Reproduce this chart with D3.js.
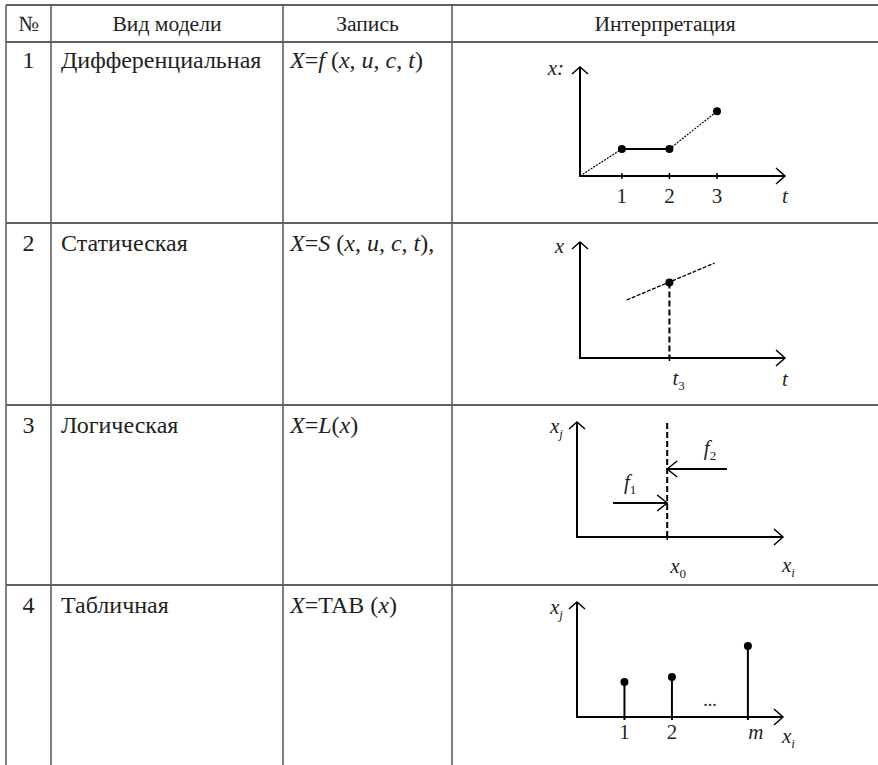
<!DOCTYPE html>
<html>
<head>
<meta charset="utf-8">
<script src="https://cdn.jsdelivr.net/npm/d3@7"></script>
<style>
  html, body { margin: 0; padding: 0; background: #fff; }
  svg { display: block; }
</style>
</head>
<body>
<svg id="chart"></svg>
<script>
const width = 878;
const height = 765;

// --- таблица ---
const headers = ["№", "Вид модели", "Запись", "Интерпретация"];
const rowNumbers = ["1", "2", "3", "4"];
const modelTypes = ["Дифференциальная", "Статическая", "Логическая", "Табличная"];
// записи: [текст, курсив]
const formulaDiff = [["X", 1], ["=", 0], ["f", 1], [" (", 0], ["x", 1], [", ", 0], ["u", 1], [", ", 0], ["c", 1], [", ", 0], ["t", 1], [")", 0]];
const formulaStat = [["X", 1], ["=", 0], ["S", 1], [" (", 0], ["x", 1], [", ", 0], ["u", 1], [", ", 0], ["c", 1], [", ", 0], ["t", 1], ["),", 0]];
const formulaLog = [["X", 1], ["=", 0], ["L", 1], ["(", 0], ["x", 1], [")", 0]];
const formulaTab = [["X", 1], ["=TAB (", 0], ["x", 1], [")", 0]];
const formulas = [formulaDiff, formulaStat, formulaLog, formulaTab];

// --- 1. дифференциальная: ломаная по точкам ---
const diffT = [0.12, 1, 2, 3];
const diffX = [0, 1, 1, 2.4];
const diffTicks = [1, 2, 3];

// --- 2. статическая: прямая и точка t3 ---
const statLineT = [1.1, 2.95];
const statLineX = [2.15, 3.52];
const statPointT = 2;
const statPointX = 2.8;

// --- 3. логическая: порог x0 и воздействия f1, f2 ---
const logX0 = 1.9;
const logTop = 4.22;
const logArrowFrom = [0.76, 3.16];
const logArrowLevel = [1.26, 2.52];
const logArrowNames = ["1", "2"];

// --- 4. табличная: значения в узлах ---
const tabX = [1, 2, 3.6];
const tabY = [1.3, 1.48, 2.63];
const tabLabels = ["1", "2", "m"];

const colEdges = [6, 51, 283, 452, width];
const rowEdges = [5, 42, 223, 405, 585, height];
const rowBase = [68, 251, 433, 613];

const serif = "Liberation Serif";
const ink = "#231f20";
const rule = "#606060";

let svg = d3.select("#chart")
  .attr("width", width)
  .attr("height", height);

// линии таблицы
svg.selectAll(".hrule")
  .data(rowEdges.slice(0, -1))
  .enter()
  .append("line")
  .attr("x1", colEdges[0])
  .attr("x2", width)
  .attr("y1", d => d)
  .attr("y2", d => d)
  .attr("stroke", rule)
  .attr("stroke-width", 2);

svg.selectAll(".vrule")
  .data(colEdges.slice(0, -1))
  .enter()
  .append("line")
  .attr("x1", d => d)
  .attr("x2", d => d)
  .attr("y1", rowEdges[0])
  .attr("y2", height)
  .attr("stroke", rule)
  .attr("stroke-width", 1.6);

// заголовок
svg.selectAll(".head")
  .data(headers)
  .enter()
  .append("text")
  .attr("x", (d, i) => (colEdges[i] + colEdges[i + 1]) / 2)
  .attr("y", 31)
  .attr("text-anchor", "middle")
  .attr("font-size", 21.6)
  .attr("fill", ink)
  .text(d => d);

// строки
rowNumbers.forEach((num, i) => {
  const base = rowBase[i];
  svg.append("text")
    .attr("x", (colEdges[0] + colEdges[1]) / 2)
    .attr("y", base)
    .attr("text-anchor", "middle")
    .attr("font-size", 24)
    .attr("fill", ink)
    .text(num);
  svg.append("text")
    .attr("x", colEdges[1] + 10)
    .attr("y", base)
    .attr("font-size", 24)
    .attr("fill", ink)
    .text(modelTypes[i]);
  let f = svg.append("text")
    .attr("x", colEdges[2] + 7)
    .attr("y", base)
    .attr("font-size", 24)
    .attr("fill", ink);
  formulas[i].forEach(p => {
    f.append("tspan")
      .attr("font-style", p[1] ? "italic" : "normal")
      .text(p[0]);
  });
});

// шкалы для каждой картинки
function makeScales(box) {
  let sx = d3.scaleLinear().domain(box.xDomain).range([box.left, box.right]);
  let sy = d3.scaleLinear().domain(box.yDomain).range([box.bottom, box.top]);
  return [sx, sy];
}

// оси со стрелками
function drawAxes(sx, sy) {
  const [x0, x1] = sx.range();
  const [y0, y1] = sy.range();
  let g = svg.append("g").attr("fill", "none").attr("stroke", "#000");
  g.append("path")
    .attr("d", `M${x0},${y1}V${y0}H${x1}`)
    .attr("stroke-width", 2);
  g.append("path")
    .attr("d", `M${x0 - 8},${y1 + 7}L${x0},${y1}L${x0 + 8},${y1 + 7}`)
    .attr("stroke-width", 1.5);
  g.append("path")
    .attr("d", `M${x1 - 9},${y0 - 8}L${x1},${y0}L${x1 - 9},${y0 + 8}`)
    .attr("stroke-width", 1.5);
}

function drawTicks(sx, sy, values) {
  const y0 = sy.range()[0];
  svg.selectAll(null)
    .data(values)
    .enter()
    .append("line")
    .attr("x1", d => sx(d))
    .attr("x2", d => sx(d))
    .attr("y1", y0 - 3)
    .attr("y2", y0 + 3)
    .attr("stroke", "#000")
    .attr("stroke-width", 1.5);
}

// подпись с индексом (цифры в индексе прямые)
function label(x, y, main, sub, anchor) {
  let t = svg.append("text")
    .attr("x", x)
    .attr("y", y)
    .attr("font-size", 21)
    .attr("font-style", "italic")
    .attr("text-anchor", anchor || "start")
    .attr("fill", ink);
  t.append("tspan").text(main);
  if (sub) {
    t.append("tspan")
      .attr("font-size", 13)
      .attr("font-style", isNaN(+sub) ? "italic" : "normal")
      .attr("dy", 5)
      .text(sub);
  }
  return t;
}

function drawDot(x, y) {
  svg.append("circle")
    .attr("cx", x)
    .attr("cy", y)
    .attr("r", 4)
    .attr("fill", "#000");
}

// 1. дифференциальная
{
  const [sx, sy] = makeScales({ left: 580, right: 785, bottom: 176, top: 67, xDomain: [0.12, 4.43], yDomain: [0, 4.04] });
  drawAxes(sx, sy);
  drawTicks(sx, sy, diffTicks);
  const pts = diffT.map((t, i) => [t, diffX[i]]);
  d3.pairs(pts).forEach(([a, b]) => {
    const flat = a[1] === b[1];
    svg.append("line")
      .attr("x1", sx(a[0])).attr("y1", sy(a[1]))
      .attr("x2", sx(b[0])).attr("y2", sy(b[1]))
      .attr("stroke", "#000")
      .attr("stroke-width", flat ? 2 : 1.2)
      .attr("stroke-dasharray", flat ? null : "2,1.2");
  });
  pts.slice(1).forEach(p => drawDot(sx(p[0]), sy(p[1])));
  svg.selectAll(null)
    .data(diffTicks)
    .enter()
    .append("text")
    .attr("x", d => sx(d))
    .attr("y", sy.range()[0] + 27)
    .attr("text-anchor", "middle")
    .attr("font-size", 21)
    .attr("fill", ink)
    .text(d => d);
  label(sx.range()[0] - 16, sy.range()[1] + 8, "x:", null, "end");
  label(sx.range()[1] - 3, sy.range()[0] + 27, "t");
}

// 2. статическая
{
  const [sx, sy] = makeScales({ left: 580, right: 785, bottom: 358, top: 242, xDomain: [0.12, 4.43], yDomain: [0, 4.3] });
  drawAxes(sx, sy);
  drawTicks(sx, sy, [statPointT]);
  svg.append("line")
    .attr("x1", sx(statLineT[0])).attr("y1", sy(statLineX[0]))
    .attr("x2", sx(statLineT[1])).attr("y2", sy(statLineX[1]))
    .attr("stroke", "#000")
    .attr("stroke-width", 1.3)
    .attr("stroke-dasharray", "4,1.5");
  svg.append("line")
    .attr("x1", sx(statPointT)).attr("y1", sy(statPointX))
    .attr("x2", sx(statPointT)).attr("y2", sy(0))
    .attr("stroke", "#000")
    .attr("stroke-width", 2)
    .attr("stroke-dasharray", "6,3");
  drawDot(sx(statPointT), sy(statPointX));
  label(sx(statPointT) + 3, sy(0) + 27, "t", "3");
  label(sx.range()[0] - 16, sy.range()[1] + 11, "x", null, "end");
  label(sx.range()[1] - 3, sy.range()[0] + 28, "t");
}

// 3. логическая
{
  const [sx, sy] = makeScales({ left: 577, right: 783, bottom: 537, top: 422, xDomain: [0, 4.34], yDomain: [0, 4.26] });
  drawAxes(sx, sy);
  drawTicks(sx, sy, [logX0]);
  svg.append("line")
    .attr("x1", sx(logX0)).attr("y1", sy(logTop))
    .attr("x2", sx(logX0)).attr("y2", sy(0))
    .attr("stroke", "#000")
    .attr("stroke-width", 2)
    .attr("stroke-dasharray", "6,3");
  logArrowFrom.forEach((from, i) => {
    const xa = sx(from), xb = sx(logX0), y = sy(logArrowLevel[i]);
    const dir = xb > xa ? 1 : -1;
    svg.append("line")
      .attr("x1", xa).attr("y1", y)
      .attr("x2", xb).attr("y2", y)
      .attr("stroke", "#000")
      .attr("stroke-width", 2);
    svg.append("path")
      .attr("d", `M${xb - dir * 10},${y - 8}L${xb},${y}L${xb - dir * 10},${y + 8}`)
      .attr("fill", "none")
      .attr("stroke", "#000")
      .attr("stroke-width", 1.5);
    label(xa + dir * 17, y - 14, "f", logArrowNames[i], "middle");
  });
  label(sx(logX0) + 3, sy(0) + 36, "x", "0");
  label(sx.range()[0] - 27, sy.range()[1] + 11, "x", "j");
  label(sx.range()[1] - 1, sy.range()[0] + 35, "x", "i");
}

// 4. табличная
{
  const [sx, sy] = makeScales({ left: 577, right: 783, bottom: 717, top: 602, xDomain: [0, 4.34], yDomain: [0, 4.26] });
  drawAxes(sx, sy);
  svg.selectAll(null)
    .data(tabX)
    .enter()
    .append("line")
    .attr("x1", d => sx(d))
    .attr("x2", d => sx(d))
    .attr("y1", (d, i) => sy(tabY[i]))
    .attr("y2", sy(0) + 3)
    .attr("stroke", "#000")
    .attr("stroke-width", 2);
  tabX.forEach((d, i) => drawDot(sx(d), sy(tabY[i])));
  svg.selectAll(null)
    .data(tabLabels)
    .enter()
    .append("text")
    .attr("x", (d, i) => sx(tabX[i]) + (d === "m" ? 8 : 0))
    .attr("y", sy(0) + 22)
    .attr("text-anchor", "middle")
    .attr("font-size", 21)
    .attr("font-style", d => isNaN(+d) ? "italic" : "normal")
    .attr("fill", ink)
    .text(d => d);
  svg.append("text")
    .attr("x", sx((tabX[1] + tabX[2]) / 2))
    .attr("y", sy(0) - 11)
    .attr("text-anchor", "middle")
    .attr("font-size", 18)
    .attr("fill", ink)
    .text("...");
  label(sx.range()[0] - 27, sy.range()[1] + 12, "x", "j");
  label(sx.range()[1] - 1, sy.range()[0] + 26, "x", "i");
}

// шрифт на каждую надпись
svg.selectAll("text").attr("font-family", serif);
</script>
</body>
</html>
